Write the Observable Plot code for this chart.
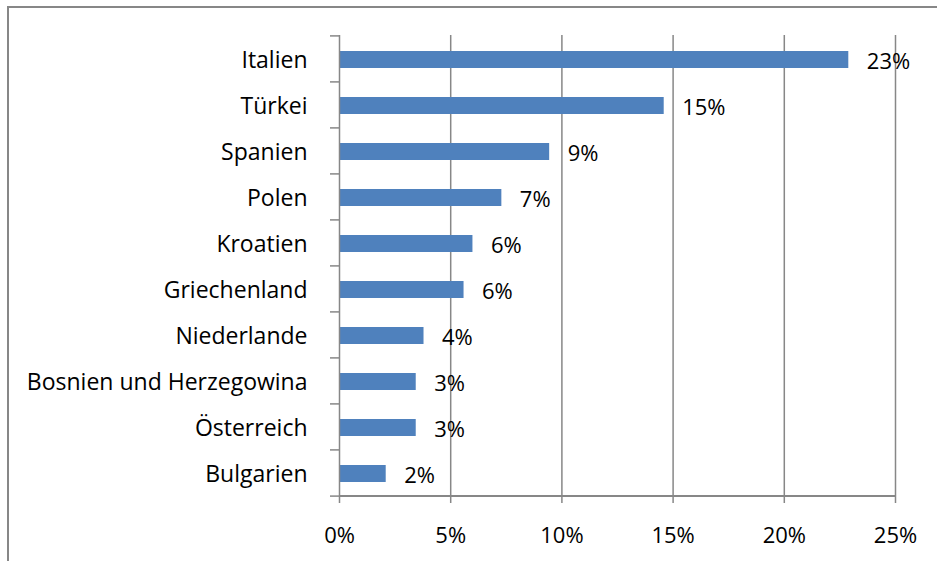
<!DOCTYPE html>
<html>
<head>
<meta charset="utf-8">
<script src="https://cdn.jsdelivr.net/npm/d3@7"></script>
<script src="https://cdn.jsdelivr.net/npm/@observablehq/plot@0.6"></script>
<style>
  html, body { margin: 0; padding: 0; background: #fff; }
  #wrap { position: relative; width: 937px; height: 561px; overflow: hidden; }
  #frame { position: absolute; left: 7px; top: 6px; width: 960px; height: 600px;
           border-left: 2px solid #878787; border-top: 2px solid #878787; pointer-events: none; }
  svg { font-family: "Open Sans", sans-serif; }
</style>
</head>
<body>
<div id="wrap"><div id="chart"></div><div id="frame"></div></div>
<script>
const countries = ["Italien", "Türkei", "Spanien", "Polen", "Kroatien", "Griechenland",
  "Niederlande", "Bosnien und Herzegowina", "Österreich", "Bulgarien"];
const shares = [22.9, 14.6, 9.45, 7.3, 6.0, 5.6, 3.8, 3.45, 3.45, 2.1];
const xTicks = [0, 5, 10, 15, 20, 25];

const data = countries.map((c, i) => ({country: c, share: shares[i]}));

const W = 937, H = 561;
const mL = 339, mR = 42, mT = 35, mB = 64;
const step = (H - mT - mB) / countries.length;
const grid = "#878787";

const chart = Plot.plot({
  width: W,
  height: H,
  marginLeft: mL,
  marginRight: mR,
  marginTop: mT,
  marginBottom: mB,
  style: {fontFamily: "Open Sans, sans-serif", background: "white", color: "black"},
  x: {domain: [0, 25], label: null},
  y: {domain: countries, paddingInner: 0.63, paddingOuter: 0.315, label: null},
  marks: [
    Plot.ruleX(xTicks.slice(1), {stroke: grid, strokeWidth: 1.5}),
    Plot.barX(data, {y: "country", x: "share", fill: "#4f81bd", dy: 1}),
    Plot.ruleX([0], {stroke: grid, strokeWidth: 1.5}),
    Plot.ruleY([countries[countries.length - 1]], {x1: 0, x2: 25, dy: step / 2, stroke: grid, strokeWidth: 2}),
    Plot.axisX({ticks: xTicks, tickFormat: d => d + "%", tickSize: 6, tickPadding: 24, label: null,
      stroke: grid, strokeWidth: 1.5, fontSize: 22, fill: "black"}),
    Plot.axisY({tickSize: 9, tickFormat: () => "", dy: -step / 2, stroke: grid, strokeWidth: 1.5, label: null}),
    Plot.axisY({ticks: [countries[countries.length - 1]], tickSize: 9, tickFormat: () => "", label: null,
      dy: step / 2, stroke: grid, strokeWidth: 1.5}),
    Plot.axisY({tickSize: 0, tickPadding: 32, fontSize: 23, fill: "black", dy: 2, label: null}),
    Plot.text(data, {y: "country", x: "share", text: d => Math.round(d.share) + "%",
      textAnchor: "start", dx: 18, dy: 3, fontSize: 22, fill: "black"})
  ]
});
document.getElementById("chart").appendChild(chart);
</script>
</body>
</html>
